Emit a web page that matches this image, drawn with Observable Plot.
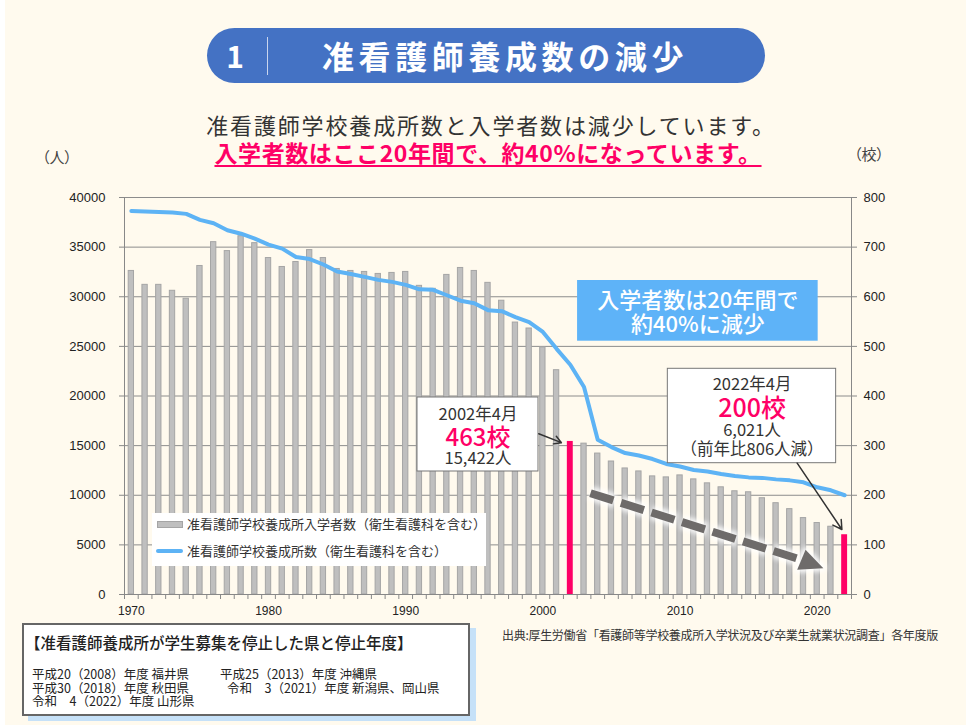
<!DOCTYPE html>
<html><head><meta charset="utf-8">
<script src="https://cdn.jsdelivr.net/npm/d3@7"></script>
<script src="https://cdn.jsdelivr.net/npm/@observablehq/plot@0.6"></script>
<style>
body{margin:0;background:#fff;}
#page{position:relative;width:971px;height:725px;overflow:hidden;font-family:"Noto Sans CJK JP","Noto Sans",sans-serif;}
#bg{position:absolute;left:5px;top:0;width:961px;height:725px;background:#fffaee;}
.abs{position:absolute;white-space:nowrap;}
#chart{position:absolute;left:0;top:150px;}
#chart svg{background:transparent;}
.rows{font-size:12.5px;line-height:13.5px;color:#222;}
</style>
</head><body>
<div id="page">
  <div id="bg"></div>
  <div class="abs" style="left:207px;top:28px;width:558px;height:55px;border-radius:28px;background:#4472c4;"></div>
  <div class="abs" style="left:222px;top:28px;width:26px;height:55px;line-height:55px;color:#fff;font-size:30px;font-weight:bold;text-align:center;">1</div>
  <div class="abs" style="left:267px;top:37px;width:1px;height:38px;background:#c9d5ee;"></div>
  <div class="abs" style="left:322px;top:28px;height:55px;line-height:55px;color:#fff;font-size:32px;font-weight:bold;letter-spacing:4.6px;">准看護師養成数の減少</div>

  <div class="abs" style="left:0;width:982px;top:110px;text-align:center;font-size:22px;line-height:28px;color:#333;letter-spacing:1.85px;">准看護師学校養成所数と入学者数は減少しています。</div>
  <div class="abs" style="left:0;width:976px;top:137px;text-align:center;font-size:23px;line-height:30px;color:#ff0066;font-weight:bold;letter-spacing:0.6px;text-decoration:underline;text-decoration-thickness:1.5px;text-underline-offset:3px;">入学者数はここ20年間で、約40%になっています。</div>

  <div class="abs" style="left:42px;top:147px;font-size:15px;line-height:20px;color:#444;font-feature-settings:'palt';">（人）</div>
  <div class="abs" style="left:854px;top:144px;font-size:15px;line-height:20px;color:#444;font-feature-settings:'palt';">（校）</div>

  <div id="chart"></div>

  <div class="abs" style="left:152px;top:513px;width:334px;height:53px;background:#fff;">
    <div class="abs" style="left:5px;top:8px;width:24px;height:5px;background:#bfbfbf;border:1px solid #a5a5a5;"></div>
    <div class="abs" style="left:35px;top:2px;font-size:13px;line-height:18px;color:#333;">准看護師学校養成所入学者数（衛生看護科を含む）</div>
    <div class="abs" style="left:4px;top:36px;width:27px;height:4px;border-radius:2px;background:#5db3f5;"></div>
    <div class="abs" style="left:35px;top:29px;font-size:13px;line-height:18px;color:#333;">准看護師学校養成所数（衛生看護科を含む）</div>
  </div>

  <div class="abs" style="left:502px;top:627px;font-size:12px;line-height:16px;color:#333;letter-spacing:-0.3px;">出典:厚生労働省「看護師等学校養成所入学状況及び卒業生就業状況調査」各年度版</div>

  <div class="abs" style="left:22px;top:623px;width:444px;height:89px;background:#fff;border:2px solid #666;box-shadow:6px 5px 0 #c6e1f8;">
    <div class="abs" style="left:1px;top:7px;font-size:15.5px;line-height:20px;color:#222;font-weight:500;">【准看護師養成所が学生募集を停止した県と停止年度】</div>
    <div class="abs rows" style="left:8px;top:42px;">平成20（2008）年度 福井県<br>平成30（2018）年度 秋田県<br>令和　4（2022）年度 山形県</div>
    <div class="abs rows" style="left:196px;top:42px;">平成25（2013）年度 沖縄県<br><span style="margin-left:7px">令和　3（2021）年度 新潟県、岡山県</span></div>
  </div>
</div>
<script>
// ---- data ----
const years = [1970,1971,1972,1973,1974,1975,1976,1977,1978,1979,
  1980,1981,1982,1983,1984,1985,1986,1987,1988,1989,
  1990,1991,1992,1993,1994,1995,1996,1997,1998,1999,
  2000,2001,2002,2003,2004,2005,2006,2007,2008,2009,
  2010,2011,2012,2013,2014,2015,2016,2017,2018,2019,
  2020,2021,2022];
const enrollees = [32600,31200,31200,30600,29800,33100,35500,34600,36100,35400,
  33900,33000,33500,34700,33900,32800,32600,32500,32300,32400,
  32500,31100,30800,32200,32900,32600,31400,29600,27400,26800,
  24900,22600,15422,15200,14200,13400,12700,12400,11900,11800,
  12000,11600,11200,10800,10400,10300,9700,9200,8600,7700,
  7200,6827,6021];
const schools = [773,772,771,770,767,755,748,734,727,717,
  705,697,680,676,665,651,646,640,634,630,
  624,615,614,603,592,587,573,571,559,549,
  529,495,463,418,312,297,285,280,273,263,
  258,251,248,243,239,236,235,232,230,226,
  216,210,200];
const highlightYears = [2002, 2022];
const leftTicks = [0,5000,10000,15000,20000,25000,30000,35000,40000];
const xLabelYears = [1970,1980,1990,2000,2010,2020];
const personsPerSchoolUnit = 50; // right axis 800 ↔ left axis 40000

// ---- annotation anchors (data units: year, persons) ----
const noteBox = [{x1:2002.53, x2:2020.07, y1:25521, y2:31637}];
const noteText = [{x:2011.3, y:28448, t:"入学者数は20年間で\n約40%に減少"}];
const c2002Box = [{x1:1990.86, x2:1999.68, y1:12393, y2:19849}];
const c2002X = 1995.27, c2002Ys = [18136, 15849, 13773];
const c2002Arrow = [{x1:1999.7, y1:16191, x2:2001.35, y2:15300}];
const c2022Box = [{x1:2009.11, x2:2021.38, y1:13229, y2:22741}];
const c2022X = 2015.25, c2022Ys = [21159, 18771, 16594, 14680];
const c2022Arrow = [{x1:2018.54, y1:13229, x2:2021.8, y2:6550}];
const trendShaft = [{x:2003.47, y:10206}, {x:2018.85, y:3497}];
const trendHead = [{x:2019.15, y:4504}, {x:2020.45, y:2650}, {x:2018.54, y:2489}, {x:2019.15, y:4504}];

// ---- table ----
const data = years.map((year, i) => ({year, enrollees: enrollees[i], schools: schools[i], highlight: highlightYears.includes(year)}));
const byYear = new Map(data.map(d => [d.year, d]));
const bandEdges = years.map(y => y - 0.5).concat([years[years.length - 1] + 0.5]);
const d02 = byYear.get(2002), d22 = byYear.get(2022), d21 = byYear.get(2021);
const fmt = d3.format(",");
const JP = "Noto Sans CJK JP";
const INK = "#333", PINK = "#ff0066";

const c2002Lines = [
  {t: `${d02.year}年4月`, size: 16.5, fill: INK, weight: 400},
  {t: `${d02.schools}校`, size: 24, fill: PINK, weight: 500},
  {t: `${fmt(d02.enrollees)}人`, size: 16.5, fill: INK, weight: 400}
];
const c2022Lines = [
  {t: `${d22.year}年4月`, size: 16.5, fill: INK, weight: 400},
  {t: `${d22.schools}校`, size: 25, fill: PINK, weight: 500},
  {t: `${fmt(d22.enrollees)}人`, size: 16.5, fill: INK, weight: 400},
  {t: `（前年比${d21.enrollees - d22.enrollees}人減）`, size: 16.5, fill: INK, weight: 400}
];

const calloutText = (x, ys, lines) =>
  Plot.text([{x, y: ys[0], t: lines.map(l => l.t).join("\n")}], {x: "x", y: "y", text: "t", fontFamily: JP, fontSize: lines[0].size, fill: INK});

const plot = Plot.plot({
  width: 971, height: 480,
  marginTop: 47, marginBottom: 36, marginLeft: 124, marginRight: 120,
  x: {domain: [bandEdges[0], bandEdges[bandEdges.length - 1]]},
  y: {domain: [0, 40000]},
  style: {fontFamily: "Liberation Sans, Arial, sans-serif", fontSize: "13px", color: "#222", background: "transparent", overflow: "visible"},
  marks: [
    Plot.ruleY(leftTicks, {stroke: "#8c8c8c", strokeWidth: 1}),
    Plot.rectY(data.filter(d => !d.highlight), {x1: d => d.year - 0.5, x2: d => d.year + 0.5, y: "enrollees", fill: "#bfbfbf", stroke: "#a5a5a5", strokeWidth: 1, insetLeft: 4.2, insetRight: 4.2}),
    Plot.rectY(data.filter(d => d.highlight), {x1: d => d.year - 0.5, x2: d => d.year + 0.5, y: "enrollees", fill: PINK, insetLeft: 3.9, insetRight: 3.9}),
    Plot.line(data, {x: "year", y: d => d.schools * personsPerSchoolUnit, stroke: "#5db3f5", strokeWidth: 4, curve: "linear"}),
    Plot.ruleX([bandEdges[0], bandEdges[bandEdges.length - 1]], {stroke: "#888"}),
    Plot.ruleY([0], {stroke: "#888"}),
    Plot.axisY({anchor: "left", ticks: leftTicks, tickSize: 5, tickPadding: 14, tickFormat: d => String(d), label: null, stroke: "#888", fill: "#222", fontSize: 13}),
    Plot.axisY({anchor: "right", ticks: leftTicks, tickSize: 5, tickPadding: 7, tickFormat: d => String(d / personsPerSchoolUnit), label: null, stroke: "#888", fill: "#222", fontSize: 13}),
    Plot.axisX({ticks: bandEdges, tickSize: 5, tickFormat: () => "", label: null, stroke: "#888"}),
    Plot.axisX({ticks: xLabelYears, tickSize: 0, tickPadding: 12, tickFormat: d => String(d), label: null, fill: "#222", fontSize: 12}),
    // blue note
    Plot.rect(noteBox, {x1: "x1", x2: "x2", y1: "y1", y2: "y2", fill: "#5eb3f8"}),
    Plot.text(noteText, {x: "x", y: "y", text: "t", fill: "#fff", fontSize: 22, fontWeight: 500, fontFamily: JP, lineHeight: 1.12}),
    // 2002 callout
    Plot.rect(c2002Box, {x1: "x1", x2: "x2", y1: "y1", y2: "y2", fill: "#fff", stroke: "#777", strokeWidth: 1}),
    calloutText(c2002X, c2002Ys, c2002Lines),
    Plot.arrow(c2002Arrow, {x1: "x1", y1: "y1", x2: "x2", y2: "y2", stroke: "#333", strokeWidth: 1.5, headLength: 10}),
    // 2022 callout
    Plot.rect(c2022Box, {x1: "x1", x2: "x2", y1: "y1", y2: "y2", fill: "#fff", stroke: "#777", strokeWidth: 1}),
    calloutText(c2022X, c2022Ys, c2022Lines),
    Plot.arrow(c2022Arrow, {x1: "x1", y1: "y1", x2: "x2", y2: "y2", stroke: "#333", strokeWidth: 1.5, headLength: 10}),
    // trend arrow with glow (glow = white strokes, blurred below)
    Plot.line(trendShaft, {x: "x", y: "y", stroke: "#fff", strokeWidth: 14, strokeOpacity: 0.9, strokeDasharray: "26,6", strokeLinecap: "butt"}),
    Plot.line(trendHead, {x: "x", y: "y", stroke: "#fff", strokeWidth: 6, strokeOpacity: 0.9, fill: "#fff"}),
    Plot.line(trendShaft, {x: "x", y: "y", stroke: "#6e6b6a", strokeWidth: 8, strokeDasharray: "24,8", strokeLinecap: "butt"}),
    Plot.line(trendHead, {x: "x", y: "y", stroke: "none", fill: "#6e6b6a"})
  ]
});
document.getElementById("chart").appendChild(plot);
const svg = plot.tagName.toLowerCase() === "svg" ? plot : plot.querySelector("svg");
d3.select(svg).selectAll('g[stroke="#fff"]').style("filter", "blur(2.5px)");

// per-line styling of the callouts, line centres taken from the y scale
const yScale = plot.scale("y");
function styleCallout(ys, lines) {
  const py = ys.map(v => yScale.apply(v));
  d3.select(svg).selectAll("text")
    .filter(function () { const t = this.querySelector("tspan"); return t && t.textContent === lines[0].t; })
    .each(function () { this.removeAttribute("dy"); })
    .selectAll("tspan")
    .each(function (_, i) {
      const l = lines[i];
      if (!l) return;
      d3.select(this)
        .attr("font-size", l.size).attr("fill", l.fill).attr("font-weight", l.weight)
        .attr("dy", null)
        .attr("y", (py[i] - py[0]) + 0.35 * l.size);
    });
}
styleCallout(c2002Ys, c2002Lines);
styleCallout(c2022Ys, c2022Lines);
</script>
</body></html>
